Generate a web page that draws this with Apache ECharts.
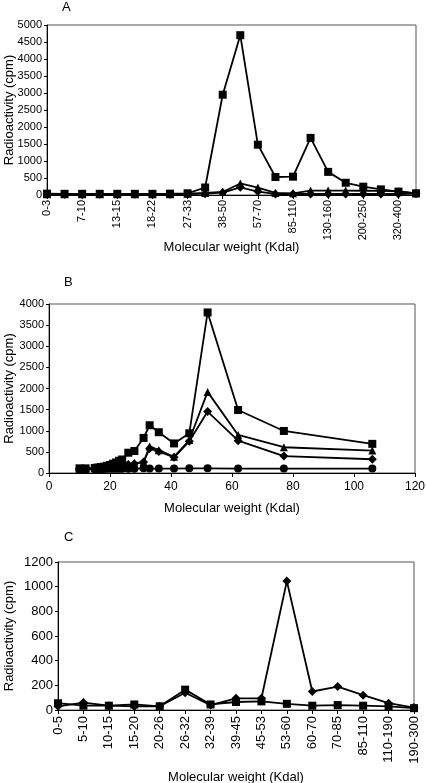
<!DOCTYPE html>
<html><head><meta charset="utf-8">
<script src="https://cdn.jsdelivr.net/npm/echarts@6/dist/echarts.min.js"></script>
<style>html,body{margin:0;padding:0;background:#fff}#c{width:426px;height:783px}</style>
</head><body><div id="c"></div>
<script>
// Panel A
const catA = ['0-3','3-7','7-10','10-13','13-15','15-18','18-22','22-27','27-33','33-38','38-50','50-57','57-70','70-85','85-110','110-130','130-160','160-200','200-250','250-320','320-400','>400'];
const sqA  = [40,35,35,35,35,35,35,40,50,220,2950,4700,1480,530,540,1680,680,360,245,165,100,50];
const triA = [20,20,20,20,20,20,20,25,40,60,90,340,220,60,50,130,130,130,125,120,110,50];
const diaA = [25,25,25,25,25,25,25,25,30,40,70,225,100,30,30,30,30,30,30,30,30,40];
// Panel B
const xB   = [10,12,15,16,17,18,19,20,21,22,23,24,26,28,31,33,36,41,46,52,62,77,106];
const sqB  = [110,110,120,130,140,150,170,190,220,250,290,320,480,520,830,1130,965,700,940,3800,1490,995,690];
const triB = [100,100,110,120,130,140,150,160,170,180,190,200,210,230,260,630,540,385,780,1920,900,610,530];
const diaB = [90,90,100,110,120,130,140,150,160,170,180,190,200,220,260,580,510,370,750,1455,765,400,325];
const cirB = [90,90,90,95,95,95,100,100,100,100,100,100,100,100,110,105,105,105,110,110,105,105,105];
// Panel C
const catC = ['0-5','5-10','10-15','15-20','20-26','26-32','32-39','39-45','45-53','53-60','60-70','70-85','85-110','110-190','190-300'];
const diaC = [30,60,35,30,30,140,40,95,95,1045,150,190,120,55,20];
const sqC  = [55,35,35,45,30,165,45,65,70,50,35,40,35,30,15];

const FONT = 'Liberation Sans, Arial, sans-serif';
const chart = echarts.init(document.getElementById('c'));
const pair = (xs, ys) => xs.map((x, i) => [x, ys[i]]);
function ser(data, sym, size, xi) {
  return {type:'line', xAxisIndex:xi, yAxisIndex:xi, data:data, symbol:sym, symbolSize:size,
    showAllSymbol:true, animation:false,
    lineStyle:{color:'#000', width:1.8}, itemStyle:{color:'#000'}};
}
const axLine = {show:true, lineStyle:{color:'#000', width:1}};
const yName = 'Radioactivity (cpm)';
const xName = 'Molecular weight (Kdal)';
const nameStyle = {fontFamily:FONT, fontSize:13, color:'#000'};
const plain = v => String(v);
const panelTitle = (t, l, tp) => ({text:t, left:l, top:tp, padding:0,
  textStyle:{fontFamily:FONT, fontSize:13, fontWeight:'normal', color:'#000'}});

chart.setOption({
  animation:false,
  title:[ panelTitle('A', 62, 1), panelTitle('B', 64, 276), panelTitle('C', 64, 531) ],
  grid:[
    {left:47, top:25, width:369, height:170, show:true, borderColor:'#555', borderWidth:1, outerBoundsMode:'none', containLabel:false},
    {left:49, top:304, width:366, height:169, show:true, borderColor:'#555', borderWidth:1, outerBoundsMode:'none', containLabel:false},
    {left:58, top:562, width:356, height:148, show:true, borderColor:'#555', borderWidth:1, outerBoundsMode:'none', containLabel:false}
  ],
  xAxis:[
    {gridIndex:0, type:'category', data:catA, boundaryGap:false, axisLine:axLine,
      axisTick:{show:true, interval:1, length:4, lineStyle:{color:'#000'}},
      axisLabel:{interval:1, rotate:90, fontFamily:FONT, fontSize:11, color:'#000', margin:5},
      splitLine:{show:false}, nameMoveOverlap:false,
      name:xName, nameLocation:'middle', nameGap:46, nameTextStyle:nameStyle},
    {gridIndex:1, type:'value', min:0, max:120, interval:20, axisLine:axLine,
      axisTick:{show:true, length:4, lineStyle:{color:'#000'}},
      axisLabel:{fontFamily:FONT, fontSize:12, color:'#000', margin:8, formatter:plain},
      splitLine:{show:false}, nameMoveOverlap:false,
      name:xName, nameLocation:'middle', nameGap:29, nameTextStyle:nameStyle},
    {gridIndex:2, type:'category', data:catC, boundaryGap:false, axisLine:axLine,
      axisTick:{show:true, length:4, lineStyle:{color:'#000'}},
      axisLabel:{interval:0, rotate:90, fontFamily:FONT, fontSize:13, color:'#000', margin:6},
      splitLine:{show:false}, nameMoveOverlap:false,
      name:xName, nameLocation:'middle', nameGap:61, nameTextStyle:nameStyle}
  ],
  yAxis:[
    {gridIndex:0, type:'value', min:0, max:5000, interval:500, axisLine:axLine,
      axisTick:{show:true, length:3, lineStyle:{color:'#000'}},
      axisLabel:{fontFamily:FONT, fontSize:11, color:'#000', margin:5, formatter:plain},
      splitLine:{show:false}, nameMoveOverlap:false,
      name:yName, nameLocation:'middle', nameGap:31, nameTextStyle:nameStyle},
    {gridIndex:1, type:'value', min:0, max:4000, interval:500, axisLine:axLine,
      axisTick:{show:true, length:3, lineStyle:{color:'#000'}},
      axisLabel:{fontFamily:FONT, fontSize:11, color:'#000', margin:5, formatter:plain},
      splitLine:{show:false}, nameMoveOverlap:false,
      name:yName, nameLocation:'middle', nameGap:33, nameTextStyle:nameStyle},
    {gridIndex:2, type:'value', min:0, max:1200, interval:200, axisLine:axLine,
      axisTick:{show:true, length:3, lineStyle:{color:'#000'}},
      axisLabel:{fontFamily:FONT, fontSize:13, color:'#000', margin:5, formatter:plain},
      splitLine:{show:false}, nameMoveOverlap:false,
      name:yName, nameLocation:'middle', nameGap:42, nameTextStyle:nameStyle}
  ],
  series:[
    ser(diaA, 'diamond', 9, 0),
    ser(triA, 'triangle', 8, 0),
    ser(sqA, 'rect', 8, 0),
    ser(pair(xB, cirB), 'circle', 8, 1),
    ser(pair(xB, diaB), 'diamond', 9, 1),
    ser(pair(xB, triB), 'triangle', 8, 1),
    ser(pair(xB, sqB), 'rect', 8, 1),
    ser(sqC, 'rect', 8, 2),
    ser(diaC, 'diamond', 9, 2)
  ]
});
</script></body></html>
